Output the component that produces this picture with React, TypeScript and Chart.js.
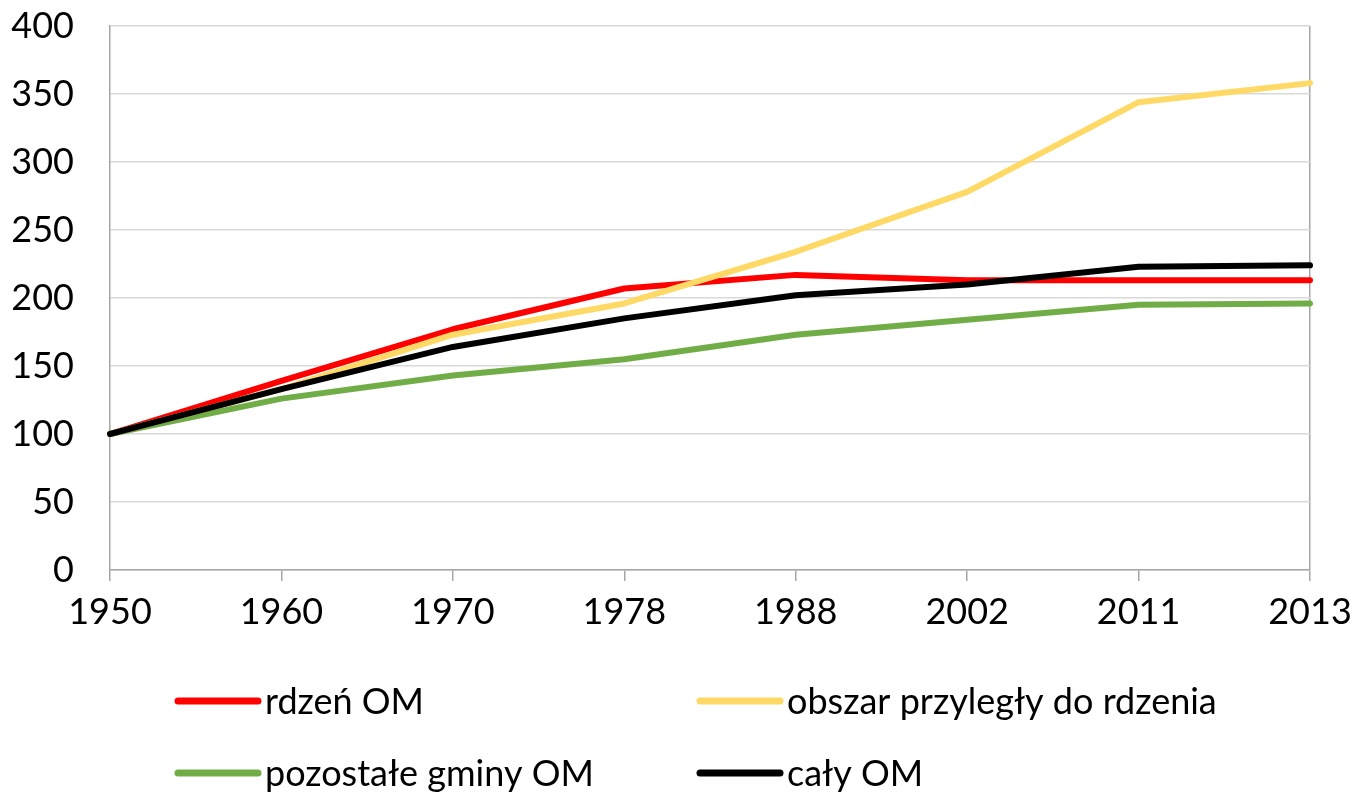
import React, { useEffect, useRef } from "react";
import { Chart, registerables } from "chart.js";

Chart.register(...registerables);

const categories = ["1950", "1960", "1970", "1978", "1988", "2002", "2011", "2013"];
const rdzenOM = [100, 139, 177, 207, 217, 213, 213, 213];
const obszarPrzylegly = [100, 133, 173, 196, 234, 278, 344, 358];
const pozostaleGminy = [100, 126, 143, 155, 173, 184, 195, 196];
const calyOM = [100, 133, 164, 185, 202, 210, 223, 224];
const yTicks = [0, 50, 100, 150, 200, 250, 300, 350, 400];

const FONT = "Lato, 'Open Sans', sans-serif";
const FONT_SIZE = 36;

const legendItems = [
  { label: "rdzeń OM", color: "#FF0000", x: 178, y: 701 },
  { label: "obszar przyległy do rdzenia", color: "#FFD966", x: 700, y: 701 },
  { label: "pozostałe gminy OM", color: "#70AD47", x: 178, y: 773 },
  { label: "cały OM", color: "#000000", x: 700, y: 773 },
];

const legendPlugin = {
  id: "customLegend",
  afterDraw(chart: any) {
    const ctx = chart.ctx;
    ctx.save();
    ctx.font = `${FONT_SIZE}px ${FONT}`;
    ctx.textBaseline = "middle";
    ctx.textAlign = "left";
    legendItems.forEach((it) => {
      ctx.strokeStyle = it.color;
      ctx.lineWidth = 7;
      ctx.lineCap = "round";
      ctx.beginPath();
      ctx.moveTo(it.x, it.y);
      ctx.lineTo(it.x + 80, it.y);
      ctx.stroke();
      ctx.fillStyle = "#000000";
      ctx.fillText(it.label, it.x + 87, it.y + 1);
    });
    ctx.restore();
  },
};

export default function App() {
  const ref = useRef<HTMLCanvasElement | null>(null);
  useEffect(() => {
    if (!ref.current) return;
    const lineDs = (label: string, data: number[], color: string, order: number) => ({
      label,
      data,
      borderColor: color,
      backgroundColor: color,
      borderWidth: 6,
      pointRadius: 0,
      tension: 0,
      borderJoinStyle: "round" as const,
      borderCapStyle: "round" as const,
      order,
    });
    const chart = new Chart(ref.current, {
      type: "line",
      data: {
        labels: categories,
        datasets: [
          lineDs("rdzeń OM", rdzenOM, "#FF0000", 3),
          lineDs("obszar przyległy do rdzenia", obszarPrzylegly, "#FFD966", 1),
          lineDs("pozostałe gminy OM", pozostaleGminy, "#70AD47", 2),
          lineDs("cały OM", calyOM, "#000000", 0),
        ],
      },
      options: {
        animation: false,
        responsive: false,
        layout: { padding: { top: 26, right: 44, bottom: 144, left: 0 } },
        plugins: { legend: { display: false }, tooltip: { enabled: false } },
        scales: {
          x: {
            offset: false,
            grid: {
              color: (c: any) => (c.index === categories.length - 1 ? "#A6A6A6" : "rgba(0,0,0,0)"),
              tickColor: "#A6A6A6",
              lineWidth: 1.5,
              tickLength: 11,
              drawOnChartArea: true,
            },
            border: { color: "#A6A6A6", width: 1.5 },
            ticks: {
              color: "#000000",
              font: { family: FONT, size: FONT_SIZE },
              padding: 10,
              maxRotation: 0,
              autoSkip: false,
            },
            afterFit: (s: any) => {
              s.height = 80;
              s.paddingLeft = 0;
              s.paddingRight = 0;
            },
          },
          y: {
            min: 0,
            max: 400,
            afterBuildTicks: (s: any) => {
              s.ticks = yTicks.map((v) => ({ value: v }));
            },
            grid: { color: "#D9D9D9", lineWidth: 1.5, drawTicks: false },
            border: { color: "#A6A6A6", width: 1.5 },
            ticks: {
              color: "#000000",
              font: { family: FONT, size: FONT_SIZE },
              padding: 36,
            },
            afterFit: (s: any) => {
              s.width = 110;
              s.paddingTop = 0;
              s.paddingBottom = 0;
            },
          },
        },
      },
      plugins: [legendPlugin],
    });
    return () => chart.destroy();
  }, []);
  return (
    <div style={{ position: "fixed", left: 0, top: 0, width: 1354, height: 794, background: "#fff" }}>
      <canvas ref={ref} width={1354} height={794} style={{ display: "block" }} />
    </div>
  );
}
